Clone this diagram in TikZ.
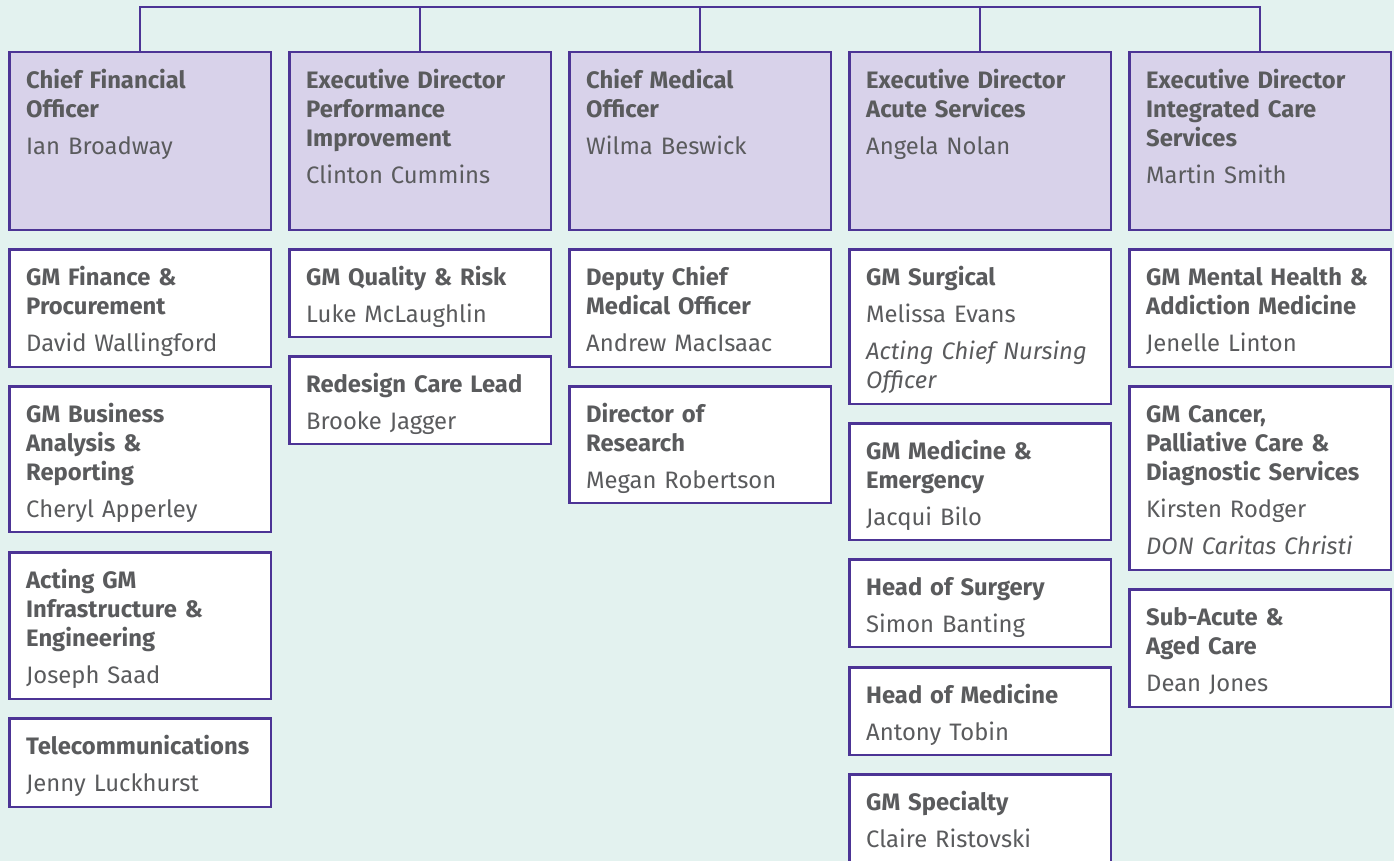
\documentclass[tikz,border=0pt]{standalone}
\usepackage{fontspec}
\setmainfont{Fira Sans}
\definecolor{bgc}{HTML}{E3F2EF}
\definecolor{bordc}{HTML}{4C3495}
\definecolor{headc}{HTML}{D8D2EA}
\definecolor{textc}{HTML}{5A5B5D}
\tikzset{
  orgbox/.style={draw=bordc, line width=2.5pt, fill=white, rectangle, inner sep=0pt, minimum width=261.5pt},
  headbox/.style={orgbox, fill=headc},
  txt/.style={anchor=north west, inner sep=0pt, text width=252pt, align=left, text=textc, font=\fontsize{23.8}{29}\selectfont},
  link/.style={draw=bordc, line width=2.5pt}
}
\newcommand\obox[6]{%
  \node[#5, anchor=north west, minimum height={#4-#3-2.5}] (#1) at (#2,#3) {};
  \node[txt] (#1-t) at ([xshift=18pt,yshift=-15pt]#1.north west) {\rule{0pt}{22pt}#6};
}
\begin{document}
\begin{tikzpicture}[x=1pt,y=-1pt]
\useasboundingbox (0,0) rectangle (1394,861);
\fill[bgc] (0,0) rectangle (1394,861);
\clip (0,0) rectangle (1394,861);
% column 1
\obox{cfo}{8}{51}{231}{headbox}{{\bfseries Chief Financial\\Officer}\\[8pt]Ian Broadway}
\obox{fin}{8}{248}{368}{orgbox}{{\bfseries GM Finance \&\\Procurement}\\[8pt]David Wallingford}
\obox{bus}{8}{385}{533}{orgbox}{{\bfseries GM Business\\Analysis \&\\Reporting}\\[8pt]Cheryl Apperley}
\obox{inf}{8}{551}{700}{orgbox}{{\bfseries Acting GM\\Infrastructure \&\\Engineering}\\[8pt]Joseph Saad}
\obox{tel}{8}{717}{808}{orgbox}{{\bfseries Telecommunications}\\[8pt]Jenny Luckhurst}
% column 2
\obox{edpi}{288}{51}{231}{headbox}{{\bfseries Executive Director\\Performance\\Improvement}\\[8pt]Clinton Cummins}
\obox{qr}{288}{248}{338}{orgbox}{{\bfseries GM Quality \& Risk}\\[8pt]Luke McLaughlin}
\obox{rcl}{288}{355}{445}{orgbox}{{\bfseries Redesign Care Lead}\\[8pt]Brooke Jagger}
% column 3
\obox{cmo}{568}{51}{231}{headbox}{{\bfseries Chief Medical\\Officer}\\[8pt]Wilma Beswick}
\obox{dcmo}{568}{248}{368}{orgbox}{{\bfseries Deputy Chief\\Medical Officer}\\[8pt]Andrew MacIsaac}
\obox{dor}{568}{385}{504}{orgbox}{{\bfseries Director of\\Research}\\[8pt]Megan Robertson}
% column 4
\obox{edas}{848}{51}{231}{headbox}{{\bfseries Executive Director\\Acute Services}\\[8pt]Angela Nolan}
\obox{surg}{848}{248}{405}{orgbox}{{\bfseries GM Surgical}\\[8pt]Melissa Evans\\[8pt]\itshape Acting Chief Nursing\\Officer}
\obox{med}{848}{422}{541}{orgbox}{{\bfseries GM Medicine \&\\Emergency}\\[8pt]Jacqui Bilo}
\obox{hos}{848}{558}{648}{orgbox}{{\bfseries Head of Surgery}\\[8pt]Simon Banting}
\obox{hom}{848}{666}{756}{orgbox}{{\bfseries Head of Medicine}\\[8pt]Antony Tobin}
\obox{spec}{848}{773}{865}{orgbox}{{\bfseries GM Specialty}\\[8pt]Claire Ristovski}
% column 5
\obox{ics}{1128}{51}{231}{headbox}{{\bfseries Executive Director\\Integrated Care\\Services}\\[8pt]Martin Smith}
\obox{mh}{1128}{248}{368}{orgbox}{{\bfseries GM Mental Health \&\\Addiction Medicine}\\[8pt]Jenelle Linton}
\obox{can}{1128}{385}{571}{orgbox}{{\bfseries GM Cancer,\\Palliative Care \&\\Diagnostic Services}\\[8pt]Kirsten Rodger\\[8pt]\itshape DON Caritas Christi}
\obox{sac}{1128}{588}{708}{orgbox}{{\bfseries Sub-Acute \&\\Aged Care}\\[8pt]Dean Jones}
% connectors
\coordinate (busline) at (700,7);
\draw[link] (cfo.north) -- (cfo.north |- busline) -- (ics.north |- busline) -- (ics.north);
\draw[link] (edpi.north) -- (edpi.north |- busline);
\draw[link] (cmo.north) -- (cmo.north |- busline);
\draw[link] (edas.north) -- (edas.north |- busline);
\end{tikzpicture}
\end{document}
